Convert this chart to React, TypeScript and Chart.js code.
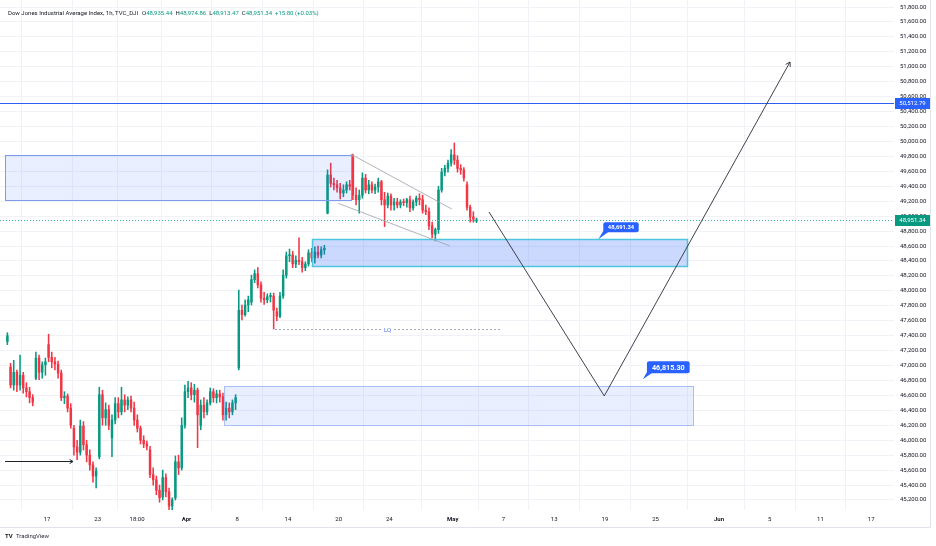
import React, { useEffect, useRef } from 'react';
import { Chart, registerables } from 'chart.js';
Chart.register(...registerables);

// ---- candle data (1 candle = quarter trading day), x = trading-day index (0 = Mar 17)
const FIRST_SLOT = -3.125;
const SLOT = 0.25;

const opens = [47320,
  46980, 46740, 46910, 46740, 46870, 46700, 46650, 46570, 46830, 47100, 46910, 47010,
  47280, 47110, 47050, 47020, 46900, 46570, 46590, 46430, 46160, 45910, 45840, 46190,
  45940, 45800, 45670, 45520, 45780, 46610, 46300, 46410, 46030, 46270, 46490, 46380,
  46540, 46470, 46540, 46430, 46270, 46160, 46000, 45950, 45870, 45540, 45470, 45330,
  45240, 45500, 45310, 45120, 45230, 45710, 45630, 46200, 46650, 46700, 46610, 46670,
  46200, 46470, 46380, 46500, 46650, 46570, 46620, 46580, 46340, 46430, 46380, 46500,
  46970, 47740, 47680, 47810, 47850, 48150, 48230, 48080, 47900, 47880, 47920, 47930,
  47720, 47660, 47930, 48210, 48470, 48480, 48360, 48410, 48390, 48310, 48360, 48510,
  48440, 48520, 48480, 48550, 49040, 49550, 49440, 49420, 49380, 49310, 49350, 49420,
  49790, 49280, 49220, 49280, 49510, 49350, 49420, 49350, 49390, 49460, 49220, 49150,
  49270, 49150, 49190, 49150, 49190, 49180, 49220, 49110, 49190, 49240, 49220, 49080,
  49060, 48870, 48760, 48820, 49350, 49590, 49640, 49710, 49820, 49750, 49640, 49620,
  49420, 49120, 48990, 48935.44];

const highs = [47440,
  47030, 47070, 46940, 47140, 46910, 46770, 46710, 46610, 47180, 47140, 47050, 47100,
  47420, 47180, 47110, 47060, 46940, 46650, 46620, 46490, 46200, 46000, 46270, 46250,
  46000, 45870, 45710, 45630, 46710, 46670, 46500, 46470, 46340, 46570, 46570, 46710,
  46610, 46580, 46590, 46510, 46340, 46190, 46060, 45990, 45920, 45630, 45520, 45400,
  45600, 45550, 45360, 45230, 45790, 45800, 46300, 46740, 46790, 46770, 46750, 46700,
  46540, 46570, 46540, 46700, 46690, 46670, 46670, 46630, 46510, 46500, 46540, 46610,
  48010, 47810, 47880, 47930, 48210, 48280, 48310, 48120, 47980, 47960, 47970, 47970,
  47770, 47980, 48280, 48520, 48560, 48530, 48470, 48710, 48450, 48390, 48550, 48570,
  48590, 48600, 48590, 48610, 49620, 49710, 49510, 49480, 49440, 49420, 49460, 49480,
  49830, 49380, 49350, 49580, 49560, 49480, 49460, 49430, 49510, 49480, 49320, 49310,
  49300, 49240, 49240, 49220, 49230, 49240, 49270, 49220, 49270, 49300, 49280, 49150,
  49110, 48920, 48840, 49400, 49640, 49680, 49750, 49890, 49980, 49810, 49690, 49650,
  49460, 49150, 49060, 48974.86];

const lows = [47280,
  46700, 46670, 46650, 46670, 46630, 46580, 46500, 46460, 46810, 46810, 46830, 46870,
  47050, 46970, 46940, 46830, 46530, 46490, 46380, 46160, 45800, 45740, 45800, 45870,
  45710, 45600, 45440, 45360, 45750, 46200, 46200, 46140, 45780, 46220, 46300, 46340,
  46380, 46410, 46380, 46200, 46110, 45950, 45900, 45870, 45500, 45400, 45270, 45170,
  45200, 45240, 45070, 45070, 45200, 45540, 45600, 46160, 46570, 46540, 46510, 45900,
  46140, 46300, 46340, 46470, 46510, 46500, 46510, 46270, 46270, 46300, 46340, 46410,
  46940, 47610, 47660, 47720, 47810, 48110, 48040, 47850, 47820, 47840, 47850, 47490,
  47600, 47640, 47900, 48170, 48390, 48310, 48310, 48350, 48250, 48270, 48330, 48390,
  48370, 48440, 48440, 48490, 49030, 49390, 49350, 49320, 49230, 49260, 49310, 49350,
  49220, 49150, 49040, 49240, 49310, 49300, 49310, 49300, 49320, 49150, 48860, 49110,
  49080, 49080, 49110, 49110, 49140, 49120, 49060, 49080, 49140, 49150, 49040, 49020,
  48820, 48710, 48670, 48770, 49320, 49540, 49590, 49670, 49690, 49590, 49560, 49470,
  49080, 48920, 48920, 48913.47];

const closes = [47400,
  46740, 46910, 46740, 46870, 46700, 46650, 46570, 46510, 47100, 46910, 47010, 47050,
  47110, 47050, 47020, 46900, 46570, 46590, 46430, 46200, 45910, 45840, 46190, 45940,
  45800, 45670, 45520, 45590, 46610, 46300, 46410, 46200, 46270, 46490, 46380, 46540,
  46470, 46540, 46430, 46270, 46160, 46000, 45950, 45920, 45540, 45470, 45330, 45230,
  45500, 45310, 45120, 45200, 45710, 45630, 46200, 46650, 46700, 46610, 46670, 46340,
  46470, 46380, 46500, 46650, 46570, 46620, 46580, 46340, 46430, 46380, 46500, 46570,
  47740, 47680, 47810, 47880, 48150, 48230, 48080, 47900, 47880, 47920, 47940, 47740,
  47660, 47930, 48210, 48470, 48480, 48360, 48410, 48390, 48310, 48360, 48510, 48440,
  48520, 48480, 48550, 48570, 49550, 49440, 49420, 49380, 49310, 49350, 49420, 49400,
  49280, 49220, 49280, 49510, 49350, 49420, 49350, 49390, 49460, 49220, 49150, 49270,
  49150, 49190, 49150, 49190, 49180, 49220, 49110, 49190, 49240, 49220, 49080, 49060,
  48870, 48760, 48820, 49350, 49590, 49640, 49710, 49820, 49750, 49640, 49620, 49510,
  49120, 48990, 48960, 48951.34];

const changeAbs = 15.80;
const changePct = 0.03;

// ---- axes
const xTickPos = [0, 4, 7.1, 11, 15, 19, 23, 27, 32, 36, 40, 44, 48, 53, 57, 61, 65];
const xTickLabels = ['17', '23', '18:00', 'Apr', '8', '14', '20', '24', 'May', '7', '13', '19', '25', 'Jun', '5', '11', '17'];
const monthLabels = ['Apr', 'May', 'Jun'];
const yTickValues = [45200, 45400, 45600, 45800, 46000, 46200, 46400, 46600, 46800, 47000,
  47200, 47400, 47600, 47800, 48000, 48200, 48400, 48600, 48800, 49000, 49200, 49400,
  49600, 49800, 50000, 50200, 50400, 50600, 50800, 51000, 51200, 51400, 51600, 51800];
const X_MIN = -3.707;
const X_MAX = 66.8;
const Y_MIN = 45066;
const Y_MAX = 51894;

// ---- drawings (data units: trading-day index, price)
const zoneX0 = [-3.3, 20.92, 13.96];
const zoneX1 = [23.97, 50.5, 50.95];
const zoneTop = [49820, 48691.34, 46730];
const zoneBottom = [49220, 48333, 46200];
const zoneFill = ['rgba(41,98,255,0.10)', 'rgba(41,98,255,0.24)', 'rgba(41,98,255,0.10)'];
const zoneStroke = ['#7f9cec', '#4cc6de', '#a9bff4'];

const resistanceLevel = 50512.79;

const channelUpper = [[23.95, 49832], [31.92, 49096]];
const channelLower = [[22.97, 49172], [31.78, 48601]];

const lqStart = 17.98;
const lqEnd = 35.73;
const lqLevel = 47490;
const lqText = 'LQ';

const leftArrow = [[-3.31, 45723], [2.05, 45723]];
const projection = [[34.86, 49056], [43.95, 46593], [58.6, 51064]];

const calloutX = [43.48, 47.0];
const calloutPrice = [48691.34, 46815.30];

const title = 'Dow Jones Industrial Average Index, 1h, TVC_DJI';

const fmt = (v: number) =>
  v.toLocaleString('en-US', { minimumFractionDigits: 2, maximumFractionDigits: 2 });

const UP = '#089981';
const DOWN = '#f23645';
const FONT = 'Roboto, "Noto Sans", sans-serif';

function arrowHead(ctx: CanvasRenderingContext2D, x0: number, y0: number, x1: number, y1: number, size: number) {
  const a = Math.atan2(y1 - y0, x1 - x0);
  ctx.beginPath();
  ctx.moveTo(x1 - size * Math.cos(a - 0.55), y1 - size * Math.sin(a - 0.55));
  ctx.lineTo(x1, y1);
  ctx.lineTo(x1 - size * Math.cos(a + 0.55), y1 - size * Math.sin(a + 0.55));
  ctx.stroke();
}

function roundRect(ctx: CanvasRenderingContext2D, x: number, y: number, w: number, h: number, r: number) {
  ctx.beginPath();
  ctx.moveTo(x + r, y);
  ctx.lineTo(x + w - r, y);
  ctx.quadraticCurveTo(x + w, y, x + w, y + r);
  ctx.lineTo(x + w, y + h - r);
  ctx.quadraticCurveTo(x + w, y + h, x + w - r, y + h);
  ctx.lineTo(x + r, y + h);
  ctx.quadraticCurveTo(x, y + h, x, y + h - r);
  ctx.lineTo(x, y + r);
  ctx.quadraticCurveTo(x, y, x + r, y);
  ctx.closePath();
}

const overlay = {
  id: 'overlay',
  afterDatasetsDraw(chart: any) {
    const { ctx, chartArea, scales } = chart;
    const xs = scales.x, ys = scales.y;
    const px = (d: number) => xs.getPixelForValue(d);
    const py = (v: number) => ys.getPixelForValue(v);
    ctx.save();
    ctx.beginPath();
    ctx.rect(chartArea.left, chartArea.top, chartArea.right - chartArea.left, chartArea.bottom - chartArea.top);
    ctx.clip();

    // zones
    for (let i = 0; i < zoneX0.length; i++) {
      const x0 = Math.round(px(zoneX0[i])) + 0.5, x1 = Math.round(px(zoneX1[i])) + 0.5;
      const y0 = Math.round(py(zoneTop[i])) + 0.5, y1 = Math.round(py(zoneBottom[i])) + 0.5;
      ctx.fillStyle = zoneFill[i];
      ctx.fillRect(x0, y0, x1 - x0, y1 - y0);
      ctx.strokeStyle = zoneStroke[i];
      ctx.lineWidth = i === 1 ? 1.5 : 1;
      ctx.strokeRect(x0, y0, x1 - x0, y1 - y0);
    }

    // resistance line
    const yr = Math.round(py(resistanceLevel));
    ctx.fillStyle = '#2f5df0';
    ctx.fillRect(chartArea.left, yr, chartArea.right - chartArea.left, 1);

    // last price line
    const last = closes[closes.length - 1];
    const yl = Math.round(py(last)) + 0.5;
    ctx.strokeStyle = '#3fb39f';
    ctx.lineWidth = 1;
    ctx.setLineDash([1, 2]);
    ctx.beginPath(); ctx.moveTo(chartArea.left, yl); ctx.lineTo(chartArea.right, yl); ctx.stroke();

    // LQ line
    const yq = Math.round(py(lqLevel)) + 0.5;
    const qx0 = px(lqStart), qx1 = px(lqEnd), qm = (qx0 + qx1) / 2;
    ctx.font = `6px ${FONT}`;
    const tw = ctx.measureText(lqText).width;
    ctx.strokeStyle = '#a2a6b6';
    ctx.setLineDash([2, 2]);
    ctx.beginPath();
    ctx.moveTo(qx0, yq); ctx.lineTo(qm - tw / 2 - 3, yq);
    ctx.moveTo(qm + tw / 2 + 3, yq); ctx.lineTo(qx1, yq);
    ctx.stroke();
    ctx.setLineDash([]);
    ctx.fillStyle = '#4d70e0';
    ctx.textAlign = 'center';
    ctx.textBaseline = 'middle';
    ctx.fillText(lqText, qm, yq + 0.5);

    // channel lines
    ctx.strokeStyle = '#9ca0ad';
    ctx.lineWidth = 0.8;
    for (const seg of [channelUpper, channelLower]) {
      ctx.beginPath();
      ctx.moveTo(px(seg[0][0]), py(seg[0][1]));
      ctx.lineTo(px(seg[1][0]), py(seg[1][1]));
      ctx.stroke();
    }

    // left arrow
    ctx.strokeStyle = '#1e222d';
    ctx.lineWidth = 1;
    const la = leftArrow.map(p => [px(p[0]), Math.round(py(p[1])) + 0.5]);
    ctx.beginPath(); ctx.moveTo(la[0][0], la[0][1]); ctx.lineTo(la[1][0], la[1][1]); ctx.stroke();
    arrowHead(ctx, la[0][0], la[0][1], la[1][0], la[1][1], 4);

    // projection path
    const pp = projection.map(p => [px(p[0]), py(p[1])]);
    ctx.strokeStyle = '#2a2e39';
    ctx.lineWidth = 0.9;
    ctx.beginPath();
    ctx.moveTo(pp[0][0], pp[0][1]);
    for (let i = 1; i < pp.length; i++) ctx.lineTo(pp[i][0], pp[i][1]);
    ctx.stroke();
    const n = pp.length;
    arrowHead(ctx, pp[n - 2][0], pp[n - 2][1], pp[n - 1][0], pp[n - 1][1], 5);

    // callouts
    for (let i = 0; i < calloutX.length; i++) {
      const tx = px(calloutX[i]), ty = py(calloutPrice[i]);
      const big = i === 1;
      const fs = big ? 7.2 : 5.8;
      ctx.font = `bold ${fs}px ${FONT}`;
      const label = fmt(calloutPrice[i]);
      const w = ctx.measureText(label).width + (big ? 10 : 9);
      const h = big ? 12 : 10;
      const bx = tx + (big ? 4 : 5);
      const by = ty - (big ? 6 : 7) - h;
      ctx.fillStyle = '#2962ff';
      ctx.beginPath();
      ctx.moveTo(tx, ty);
      ctx.lineTo(bx + 1, by + h - 3);
      ctx.lineTo(bx + 6, by + h - 1);
      ctx.closePath();
      ctx.fill();
      roundRect(ctx, bx, by, w, h, 2);
      ctx.fill();
      ctx.fillStyle = '#ffffff';
      ctx.textAlign = 'center';
      ctx.textBaseline = 'middle';
      ctx.fillText(label, bx + w / 2, by + h / 2 + 0.5);
    }
    ctx.restore();
  },
  afterDraw(chart: any) {
    const { ctx, chartArea, scales } = chart;
    const ys = scales.y;
    ctx.save();
    // price tags on the axis
    const tags = [
      { v: resistanceLevel, c: '#2962ff' },
      { v: closes[closes.length - 1], c: UP },
    ];
    ctx.font = `6px ${FONT}`;
    ctx.textAlign = 'center';
    ctx.textBaseline = 'middle';
    for (const t of tags) {
      const y = Math.round(ys.getPixelForValue(t.v));
      const x0 = chartArea.right + 1;
      ctx.fillStyle = t.c;
      ctx.fillRect(x0, y - 5, 35, 11);
      ctx.fillStyle = '#ffffff';
      ctx.fillText(fmt(t.v), x0 + 17.5, y + 0.5);
    }

    // header
    let x = 8;
    const yh = 13;
    ctx.textAlign = 'left';
    ctx.font = `6px ${FONT}`;
    const put = (s: string, c: string, gap = 0) => {
      ctx.fillStyle = c;
      ctx.fillText(s, x, yh);
      x += ctx.measureText(s).width + gap;
    };
    const dark = '#131722';
    const last = closes.length - 1;
    put(title, dark, 4);
    put('O', dark); put(fmt(opens[last]), UP, 3);
    put('H', dark); put(fmt(highs[last]), UP, 3);
    put('L', dark); put(fmt(lows[last]), UP, 3);
    put('C', dark); put(fmt(closes[last]), UP, 3);
    put(`+${changeAbs.toFixed(2)} (+${changePct.toFixed(2)}%)`, UP);

    // borders
    ctx.strokeStyle = '#e0e3eb';
    ctx.lineWidth = 1;
    ctx.beginPath();
    ctx.moveTo(0, 527.5); ctx.lineTo(930.5, 527.5);
    ctx.moveTo(930.5, 0); ctx.lineTo(930.5, 527.5);
    ctx.stroke();

    // logo
    ctx.fillStyle = dark;
    ctx.font = `bold 6px ${FONT}`;
    ctx.fillText('TV', 5, 536);
    ctx.font = `6px ${FONT}`;
    ctx.fillStyle = '#2a2e39';
    ctx.fillText('TradingView', 16, 536);
    ctx.restore();
  },
};

const zeroPad = (s: any) => { s.paddingTop = 0; s.paddingBottom = 0; s.paddingLeft = 0; s.paddingRight = 0; };

export default function App() {
  const ref = useRef<HTMLCanvasElement | null>(null);
  useEffect(() => {
    if (!ref.current) return;
    const xs = opens.map((_, i) => FIRST_SLOT + i * SLOT);
    const colors = opens.map((o, i) => (closes[i] >= o ? UP : DOWN));
    const chart = new Chart(ref.current, {
      type: 'bar',
      data: {
        datasets: [
          {
            label: 'body',
            data: xs.map((x, i) => ({ x, y: [opens[i], closes[i]] })) as any,
            backgroundColor: colors,
            barThickness: 1.8,
            minBarLength: 1,
            order: 0,
          },
          {
            label: 'wick',
            data: xs.map((x, i) => ({ x, y: [lows[i], highs[i]] })) as any,
            backgroundColor: colors,
            barThickness: 0.9,
            order: 1,
          },
        ],
      },
      options: {
        responsive: false,
        animation: false,
        layout: { padding: { left: 0, right: 0, top: 0, bottom: 19 } },
        datasets: { bar: { grouped: false } } as any,
        plugins: { legend: { display: false }, tooltip: { enabled: false } },
        scales: {
          x: {
            type: 'linear',
            min: X_MIN,
            max: X_MAX,
            offset: false,
            afterBuildTicks: (s: any) => { s.ticks = xTickPos.map(v => ({ value: v })); },
            afterFit: (s: any) => { s.height = 17; zeroPad(s); },
            ticks: {
              autoSkip: false,
              maxRotation: 0,
              padding: 6,
              color: '#131722',
              font: (c: any) => ({ family: FONT, size: 6, weight: monthLabels.includes(xTickLabels[c.index]) ? 'bold' : 'normal' }),
              callback: (_v: any, i: number) => xTickLabels[i],
            },
            grid: { color: '#f0f2f7', drawTicks: false },
            border: { display: false },
          },
          y: {
            position: 'right',
            min: Y_MIN,
            max: Y_MAX,
            afterBuildTicks: (s: any) => { s.ticks = yTickValues.map(v => ({ value: v })); },
            afterFit: (s: any) => { s.width = 42; zeroPad(s); },
            ticks: {
              autoSkip: false,
              padding: 6,
              color: '#131722',
              font: { family: FONT, size: 6 },
              callback: (v: any) => fmt(Number(v)),
            },
            grid: { color: '#f0f2f7', drawTicks: false },
            border: { display: false },
          },
        },
      } as any,
      plugins: [overlay],
    });
    return () => chart.destroy();
  }, []);
  return (
    <div style={{ position: 'absolute', left: 0, top: 0, width: 936, height: 546, background: '#fff' }}>
      <canvas ref={ref} width={936} height={546} style={{ display: 'block' }} />
    </div>
  );
}
